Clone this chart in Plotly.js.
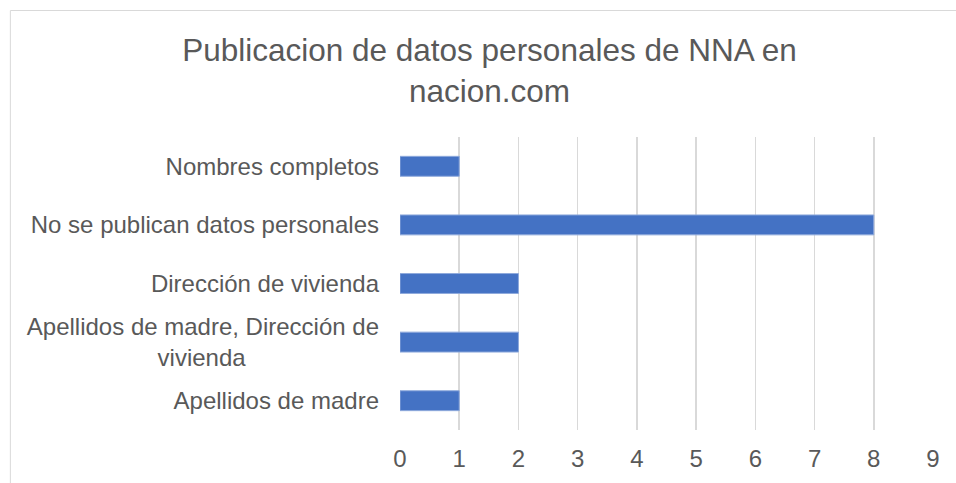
<!DOCTYPE html>
<html>
<head>
<meta charset="utf-8">
<script src="https://cdn.plot.ly/plotly-3.0.1.min.js"></script>
<style>
html,body{margin:0;padding:0;background:#fff;}
#chart{width:956px;height:483px;}
</style>
</head>
<body>
<div id="chart"></div>
<script>
// Categories listed bottom to top
const categories = [
  "Apellidos de madre",
  "Apellidos de madre, Dirección de<br>vivienda" + "\u00A0".repeat(20),
  "Dirección de vivienda",
  "No se publican datos personales",
  "Nombres completos"
];
const values = [1, 2, 2, 8, 1];
const xTicks = [0, 1, 2, 3, 4, 5, 6, 7, 8, 9];
const titleText = "Publicacion de datos personales de NNA en<br>nacion.com";

const grey = "#595959";
const data = [{
  type: "bar",
  orientation: "h",
  y: categories,
  x: values,
  marker: {color: "#4472C4", line: {color: "#8FAADC", width: 1}},
  hoverinfo: "x+y"
}];

const layout = {
  width: 956,
  height: 483,
  margin: {l: 399.5, r: 23, t: 137, b: 53, pad: 0},
  paper_bgcolor: "#fff",
  plot_bgcolor: "#fff",
  font: {family: "Liberation Sans, Arial, sans-serif", color: grey, size: 24},
  title: {
    text: titleText,
    font: {size: 31.5, color: grey, family: "Liberation Sans, Arial, sans-serif"},
    x: 0.512, xanchor: "center",
    y: 1 - 61/483, yanchor: "top", yref: "container"
  },
  bargap: 0.66,
  showlegend: false,
  xaxis: {
    range: [0, 9],
    tickvals: xTicks,
    showgrid: true,
    gridcolor: "#d9d9d9",
    gridwidth: 1.5,
    zeroline: false,
    showline: false,
    ticks: "",
    ticklabelstandoff: 12,
    tickfont: {size: 24, color: grey},
    fixedrange: true
  },
  yaxis: {
    type: "category",
    showgrid: false,
    zeroline: false,
    showline: false,
    ticks: "",
    ticklabelstandoff: 20,
    tickfont: {size: 24, color: grey},
    fixedrange: true
  },
  shapes: [{
    type: "rect",
    xref: "paper", yref: "paper",
    x0: (9.5 - 399.5) / 533.5, x1: 1.2,
    y0: -0.4, y1: (430 - 10.5) / 293,
    line: {color: "#d9d9d9", width: 1},
    fillcolor: "rgba(0,0,0,0)",
    layer: "below"
  }]
};

Plotly.newPlot("chart", data, layout, {displayModeBar: false, staticPlot: true});
</script>
</body>
</html>
